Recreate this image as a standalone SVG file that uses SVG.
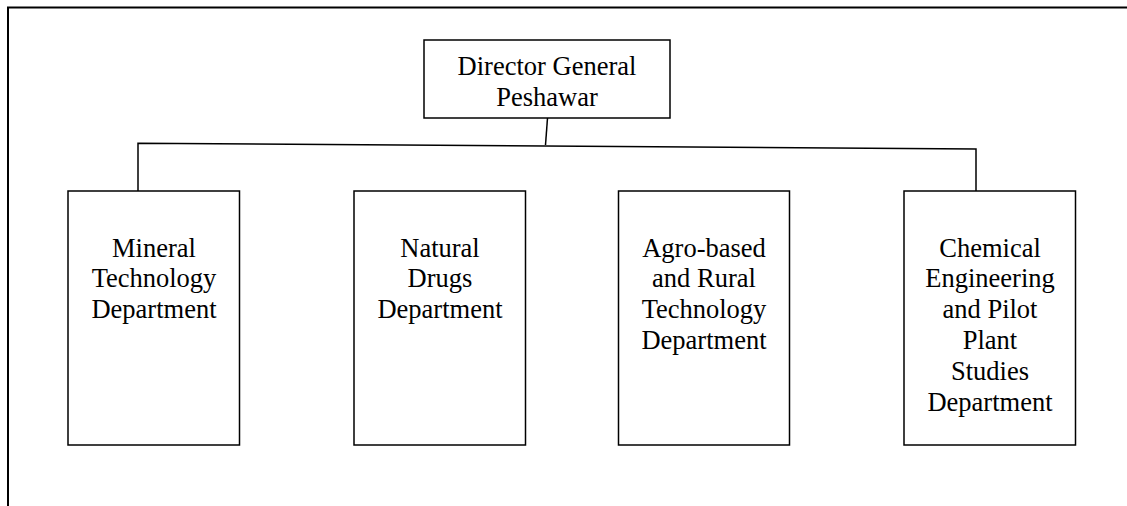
<svg xmlns="http://www.w3.org/2000/svg" width="1127" height="506" viewBox="0 0 1127 506">
<style>
.box{fill:#fff;stroke:#000;stroke-width:1.5}
.t{font-family:"Liberation Serif","Times New Roman",serif;font-size:26.5px;fill:#000;text-anchor:middle}
.c{fill:none;stroke:#000;stroke-width:1.5}
.frame{fill:none;stroke:#000;stroke-width:2}
</style>
<rect width="1127" height="506" fill="#fff"/>
<path class="frame" d="M8,506 V7.5 H1127"/>
<g id="connectors">
<path class="c" d="M547.5,118 L545.5,145"/>
<path class="c" d="M138,191 V143.3 L976,149 V191"/>
</g>
<g id="dg">
<rect class="box" x="424" y="40" width="246" height="78"/>
<text class="t" x="547" y="75">Director General</text>
<text class="t" x="547" y="106">Peshawar</text>
</g>
<g id="mineral">
<rect class="box" x="68" y="191" width="171.5" height="254"/>
<text class="t" x="154" y="256.5">Mineral</text>
<text class="t" x="154" y="287">Technology</text>
<text class="t" x="154" y="317.5">Department</text>
</g>
<g id="drugs">
<rect class="box" x="354" y="191" width="171.5" height="254"/>
<text class="t" x="440" y="256.5">Natural</text>
<text class="t" x="440" y="287">Drugs</text>
<text class="t" x="440" y="317.5">Department</text>
</g>
<g id="agro">
<rect class="box" x="618.5" y="191" width="171" height="254"/>
<text class="t" x="704" y="256.5">Agro-based</text>
<text class="t" x="704" y="287">and Rural</text>
<text class="t" x="704" y="317.5">Technology</text>
<text class="t" x="704" y="349">Department</text>
</g>
<g id="chemical">
<rect class="box" x="904" y="191" width="171.5" height="254"/>
<text class="t" x="990" y="256.5">Chemical</text>
<text class="t" x="990" y="287">Engineering</text>
<text class="t" x="990" y="317.5">and Pilot</text>
<text class="t" x="990" y="348.5">Plant</text>
<text class="t" x="990" y="380">Studies</text>
<text class="t" x="990" y="411">Department</text>
</g>
</svg>
